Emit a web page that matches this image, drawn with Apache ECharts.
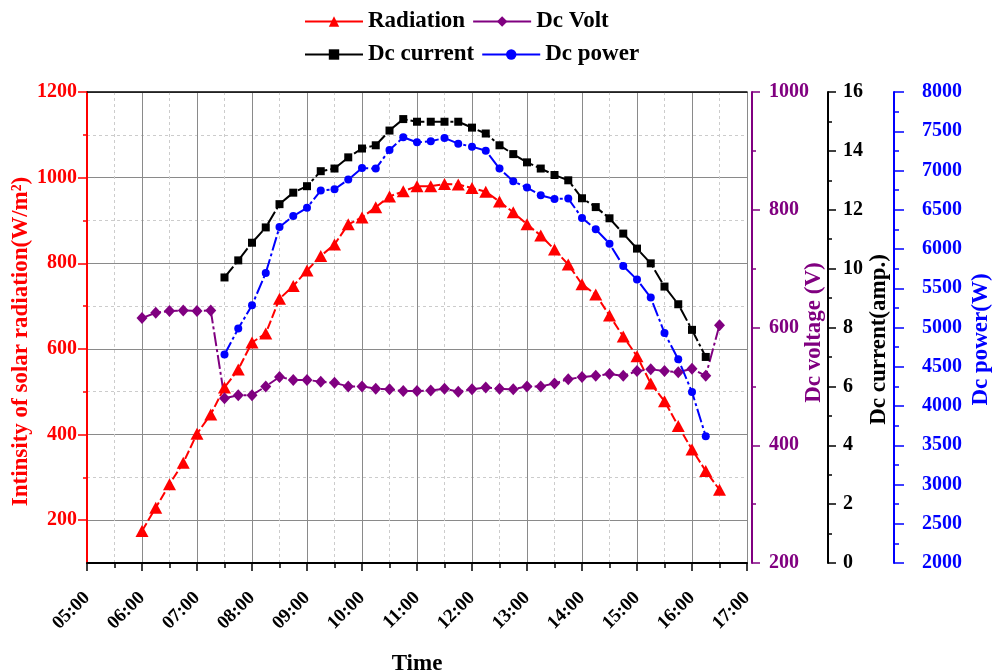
<!DOCTYPE html>
<html>
<head>
<meta charset="utf-8">
<script src="https://cdn.jsdelivr.net/npm/echarts@6/dist/echarts.min.js"></script>
<style>
  html, body { margin: 0; padding: 0; background: #ffffff; }
  #chart { width: 995px; height: 672px; }
</style>
</head>
<body>
<div id="chart"></div>
<script>
// Sampling times (15-minute steps)
const timesAll = ['06:00','06:15','06:30','06:45','07:00','07:15','07:30','07:45','08:00','08:15',
  '08:30','08:45','09:00','09:15','09:30','09:45','10:00','10:15','10:30','10:45',
  '11:00','11:15','11:30','11:45','12:00','12:15','12:30','12:45','13:00','13:15',
  '13:30','13:45','14:00','14:15','14:30','14:45','15:00','15:15','15:30','15:45',
  '16:00','16:15','16:30'];
const timesDc = ['07:30','07:45','08:00','08:15','08:30','08:45','09:00','09:15','09:30','09:45',
  '10:00','10:15','10:30','10:45','11:00','11:15','11:30','11:45','12:00','12:15',
  '12:30','12:45','13:00','13:15','13:30','13:45','14:00','14:15','14:30','14:45',
  '15:00','15:15','15:30','15:45','16:00','16:15'];

// Solar radiation (W/m2) at timesAll
const radiation = [175, 229, 284, 334, 402, 447, 510, 552, 615, 636,
  717, 747, 783, 817, 844, 891, 907, 931, 956, 968,
  980, 980, 985, 984, 976, 967, 944, 919, 891, 865,
  832, 797, 751, 727, 678, 629, 583, 519, 478, 420,
  365, 315, 271];
// DC voltage (V) at timesAll
const dcVolt = [616, 625, 628, 629, 628, 629, 480, 485, 485, 500,
  516, 511, 511, 508, 506, 500, 500, 496, 495, 492,
  492, 493, 496, 491, 495, 498, 496, 495, 500, 500,
  505, 512, 516, 518, 521, 518, 526, 529, 526, 524,
  530, 518, 604];
// DC current (A) at timesDc
const dcCurrent = [9.70, 10.28, 10.88, 11.40, 12.19, 12.58, 12.80, 13.31, 13.40, 13.78,
  14.08, 14.19, 14.69, 15.08, 14.99, 14.99, 14.99, 14.99, 14.79, 14.59,
  14.19, 13.89, 13.61, 13.40, 13.18, 13.00, 12.39, 12.09, 11.71, 11.19,
  10.68, 10.18, 9.39, 8.79, 7.92, 7.00];
// DC power (W) at timesDc
const dcPower = [4655, 4986, 5283, 5694, 6280, 6420, 6525, 6744, 6761, 6884,
  7032, 7024, 7261, 7423, 7359, 7372, 7414, 7342, 7304, 7253,
  7024, 6862, 6782, 6684, 6637, 6642, 6395, 6251, 6068, 5783,
  5610, 5381, 4930, 4595, 4178, 3614];

// Radiation axis tick values
const radiationTicks = [200, 400, 600, 800, 1000, 1200];
const radiationMinorTicks = [300, 500, 700, 900, 1100];

const toHours = t => { const [h, m] = t.split(':').map(Number); return h + m / 60; };
const pair = (times, vals) => times.map((t, i) => [toHours(t), vals[i]]);
const plain = v => String(v);

const FONT = "'Liberation Serif', 'Times New Roman', serif";
const RED = '#ff0000', PURPLE = '#800080', BLACK = '#000000', BLUE = '#0000ff';

const txt = (color, size) => ({ color, fontFamily: FONT, fontWeight: 'bold', fontSize: size });

const chart = echarts.init(document.getElementById('chart'), null, { renderer: 'canvas' });

const legendBase = {
  left: 299, padding: 5, itemWidth: 58, itemHeight: 13, itemGap: 7,
  textStyle: txt('#000', 23),
  lineStyle: { type: 'solid', width: 2 }
};

chart.setOption({
  animation: false,
  backgroundColor: '#ffffff',
  legend: [
    Object.assign({}, legendBase, { top: 5, data: ['Radiation', 'Dc Volt'] }),
    Object.assign({}, legendBase, { top: 38, data: ['Dc current', 'Dc power'] })
  ],
  grid: { left: 87, right: 248, top: 92, bottom: 109, containLabel: false, outerBoundsMode: 'none' },
  xAxis: [
    {
      type: 'value', min: 5, max: 17, interval: 1, position: 'bottom',
      name: 'Time', nameLocation: 'middle', nameGap: 90, nameMoveOverlap: false,
      nameTextStyle: txt('#000', 23),
      axisLine: { show: true, lineStyle: { color: BLACK, width: 2 } },
      axisTick: { show: true, inside: false, length: 8, lineStyle: { color: BLACK, width: 1.5 } },
      minorTick: { show: true, splitNumber: 2, length: 5, lineStyle: { color: BLACK, width: 1.5 } },
      axisLabel: Object.assign(txt('#000', 19), {
        rotate: 45, margin: 32,
        formatter: v => String(v).padStart(2, '0') + ':00'
      }),
      splitLine: { show: true, lineStyle: { color: '#8a8a8a', width: 1 } },
      minorSplitLine: { show: true, lineStyle: { color: '#cccccc', width: 1, type: [3, 3] } }
    },
    {
      type: 'value', min: 5, max: 17, position: 'top',
      axisLine: { show: true, lineStyle: { color: BLACK, width: 1.5 } },
      axisTick: { show: false }, axisLabel: { show: false }, splitLine: { show: false }
    }
  ],
  yAxis: [
    {
      type: 'value', position: 'left', offset: 0, min: 100, max: 1200, interval: 100,
      name: 'Intinsity of solar radiation(W/m²)', nameLocation: 'middle', nameGap: 54,
      nameMoveOverlap: false,
      nameTextStyle: Object.assign(txt(RED, 23), { padding: [0, 28, 0, 0] }),
      axisLine: { show: true, lineStyle: { color: RED, width: 2 } },
      axisTick: { show: true, inside: false, length: 9, customValues: radiationTicks,
        lineStyle: { color: RED, width: 1.5 } },
      axisLabel: Object.assign(txt(RED, 20), { margin: 10, customValues: radiationTicks, formatter: plain }),
      splitLine: { show: true, lineStyle: { color: '#8a8a8a', width: 1 } }
    },
    {
      type: 'value', position: 'right', offset: 5, min: 200, max: 1000, interval: 200,
      name: 'Dc voltage (V)', nameLocation: 'middle', nameGap: 51, nameMoveOverlap: false,
      nameTextStyle: Object.assign(txt(PURPLE, 23), { padding: [0, 10, 0, 0] }),
      axisLine: { show: true, lineStyle: { color: PURPLE, width: 2 } },
      axisTick: { show: true, inside: false, length: 8, lineStyle: { color: PURPLE, width: 1.5 } },
      minorTick: { show: true, splitNumber: 2, length: 4, lineStyle: { color: PURPLE, width: 1.5 } },
      axisLabel: Object.assign(txt(PURPLE, 20), { margin: 17, formatter: plain }),
      splitLine: { show: false }
    },
    {
      type: 'value', position: 'right', offset: 81, min: 0, max: 16, interval: 2,
      name: 'Dc current(amp.)', nameLocation: 'middle', nameGap: 40, nameMoveOverlap: false,
      nameTextStyle: Object.assign(txt(BLACK, 23), { padding: [0, 24, 0, 0] }),
      axisLine: { show: true, lineStyle: { color: BLACK, width: 2 } },
      axisTick: { show: true, inside: false, length: 8, lineStyle: { color: BLACK, width: 1.5 } },
      minorTick: { show: true, splitNumber: 2, length: 4, lineStyle: { color: BLACK, width: 1.5 } },
      axisLabel: Object.assign(txt(BLACK, 20), { margin: 15, formatter: plain }),
      splitLine: { show: false }
    },
    {
      type: 'value', position: 'right', offset: 147, min: 2000, max: 8000, interval: 500,
      name: 'Dc power(W)', nameLocation: 'middle', nameGap: 76, nameMoveOverlap: false,
      nameTextStyle: Object.assign(txt(BLUE, 23), { padding: [0, 24, 0, 0] }),
      axisLine: { show: true, lineStyle: { color: BLUE, width: 2 } },
      axisTick: { show: true, inside: false, length: 10, lineStyle: { color: BLUE, width: 1.5 } },
      minorTick: { show: true, splitNumber: 2, length: 5, lineStyle: { color: BLUE, width: 1.5 } },
      axisLabel: Object.assign(txt(BLUE, 20), { margin: 28, formatter: plain }),
      splitLine: { show: false }
    },
    {
      // odd-hundred radiation ticks and dashed grid lines
      type: 'value', position: 'left', offset: 0, min: 100, max: 1200, interval: 100,
      axisLine: { show: false },
      axisTick: { show: true, inside: false, length: 4, customValues: radiationMinorTicks,
        lineStyle: { color: RED, width: 1.5 } },
      axisLabel: { show: false },
      splitLine: { show: true, lineStyle: { color: '#cccccc', width: 1, type: [3, 3] } }
    }
  ],
  series: [
    {
      name: 'Radiation', type: 'line', xAxisIndex: 0, yAxisIndex: 0,
      data: pair(timesAll, radiation),
      symbol: 'triangle', symbolSize: [13, 12], color: RED,
      itemStyle: { color: RED },
      lineStyle: { color: RED, width: 2, type: [9, 3] }
    },
    {
      name: 'Dc Volt', type: 'line', xAxisIndex: 0, yAxisIndex: 1,
      data: pair(timesAll, dcVolt),
      symbol: 'diamond', symbolSize: [11, 12], color: PURPLE,
      itemStyle: { color: PURPLE },
      lineStyle: { color: PURPLE, width: 2, type: [14, 3, 3, 3] }
    },
    {
      name: 'Dc current', type: 'line', xAxisIndex: 0, yAxisIndex: 2,
      data: pair(timesDc, dcCurrent),
      symbol: 'rect', symbolSize: 8, color: BLACK,
      itemStyle: { color: BLACK },
      lineStyle: { color: BLACK, width: 2, type: [14, 3, 3, 3] }
    },
    {
      name: 'Dc power', type: 'line', xAxisIndex: 0, yAxisIndex: 3,
      data: pair(timesDc, dcPower),
      symbol: 'circle', symbolSize: 8, color: BLUE,
      itemStyle: { color: BLUE },
      lineStyle: { color: BLUE, width: 2, type: [14, 3, 3, 3] }
    }
  ]
});
</script>
</body>
</html>
